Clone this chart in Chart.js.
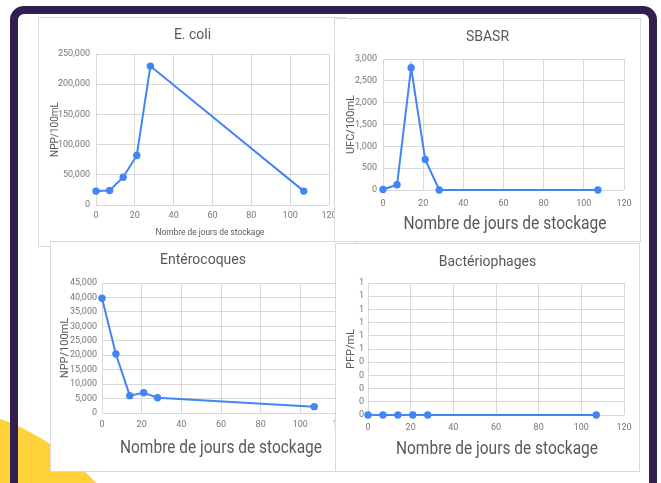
<!DOCTYPE html>
<html lang="fr">
<head>
<meta charset="utf-8">
<title>Suivi microbiologique pendant le stockage</title>
<script src="https://cdn.jsdelivr.net/npm/chart.js@4.4.1/dist/chart.umd.min.js"></script>
<style>
  html, body { margin: 0; padding: 0; background: #fff; }
  body { position: relative; width: 661px; height: 483px; overflow: hidden; }
  .sun { position: absolute; left: -337px; top: 403px; width: 500px; height: 500px;
         border-radius: 50%; background: #ffd23c; }
  .frame { position: absolute; left: 10px; top: 6px; width: 631px; height: 540px;
           border: 8px solid #2f1e4e; border-radius: 14px; }
  .panel { position: absolute; background: #fff; overflow: hidden;
           box-shadow: inset 0 0 0 1px #d9d9d9; }
  .panel canvas { position: absolute; left: 0; top: 0; }
</style>
</head>
<body>
<div class="sun"></div>
<div class="frame"></div>

<div class="panel" style="left:38px;top:17px;width:309px;height:230px">
  <canvas id="ecoli" width="309" height="230" style="width:309px;height:230px"></canvas>
</div>
<div class="panel" style="left:334px;top:18px;width:307px;height:224px">
  <canvas id="sbasr" width="307" height="224" style="width:307px;height:224px"></canvas>
</div>
<div class="panel" style="left:50px;top:241px;width:306px;height:231px">
  <canvas id="entero" width="306" height="231" style="width:306px;height:231px"></canvas>
</div>
<div class="panel" style="left:335px;top:243px;width:305px;height:229px">
  <canvas id="phage" width="305" height="229" style="width:305px;height:229px"></canvas>
</div>

<script>
// Jours de stockage échantillonnés
const days = [0, 7, 14, 21, 28, 107];

// Résultats par indicateur
const ecoliNpp  = [23000, 24000, 46000, 82000, 230000, 23000];   // NPP/100mL
const sbasrUfc  = [10, 120, 2800, 700, 0, 0];                     // UFC/100mL
const enteroNpp = [39700, 20400, 6000, 7000, 5300, 2200];         // NPP/100mL
const phagePfp  = [0, 0, 0, 0, 0, 0];                             // PFP/mL

// Graduations
const dayTicks = [0, 20, 40, 60, 80, 100, 120];
const phageTickLabels = ['0', '0', '0', '0', '0', '1', '1', '1', '1', '1', '1'];

const xAxisTitle = 'Nombre de jours de stockage';

const BLUE = '#4285f4';
const GRID = '#d9d9d9';
const TEXT = '#595959';
const TICK = '#777777';
const SANS = "Roboto, 'Liberation Sans', sans-serif";

// Titre de l'axe horizontal, centré sous la zone de tracé et
// resserré à une largeur donnée (argument maxWidth de fillText).
const axisCaption = {
  id: 'axisCaption',
  afterDraw(chart, args, o) {
    if (!o || !o.text) return;
    const { ctx, chartArea } = chart;
    ctx.save();
    ctx.font = `${o.size}px ${SANS}`;
    ctx.fillStyle = o.color || TEXT;
    ctx.textAlign = 'center';
    ctx.textBaseline = 'middle';
    const cx = (chartArea.left + chartArea.right) / 2 + (o.dx || 0);
    ctx.fillText(o.text, cx, o.y, o.width);
    ctx.restore();
  }
};

function lineChart(id, values, c) {
  const points = days.map((d, i) => ({ x: d, y: values[i] }));
  return new Chart(document.getElementById(id), {
    type: 'line',
    data: {
      datasets: [{
        data: points,
        borderColor: BLUE,
        backgroundColor: BLUE,
        borderWidth: 2,
        pointRadius: 3.7,
        pointHoverRadius: 3.7,
        pointBorderWidth: 0,
        tension: 0,
        clip: false
      }]
    },
    plugins: [axisCaption],
    options: {
      responsive: false,
      animation: false,
      devicePixelRatio: 1,
      events: [],
      layout: { padding: { left: c.pad, right: c.pad, top: 0, bottom: 0 } },
      plugins: {
        legend: { display: false },
        tooltip: { enabled: false },
        title: {
          display: true,
          text: c.title,
          color: TEXT,
          font: { family: SANS, size: 14, weight: 'normal' },
          padding: { top: c.titleTop, bottom: c.titleBottom }
        },
        axisCaption: {
          text: xAxisTitle,
          size: c.xTitleSize,
          width: c.xTitleWidth,
          y: c.xTitleY,
          dx: c.xTitleDx,
          color: TEXT
        }
      },
      scales: {
        x: {
          type: 'linear',
          min: 0,
          max: 120,
          afterBuildTicks: s => { s.ticks = dayTicks.map(v => ({ value: v })); },
          afterFit: s => { s.height = c.xH; },
          grid: { color: GRID, drawTicks: false },
          border: { display: false },
          ticks: { padding: c.xTickPad, color: TICK, font: { family: SANS, size: 9 },
                   maxRotation: 0, autoSkip: false },
          title: { display: false }
        },
        y: {
          min: 0,
          max: c.yMax,
          afterFit: s => { s.width = c.yW; },
          grid: { color: GRID, drawTicks: false },
          border: { display: false },
          ticks: Object.assign({
            stepSize: c.yStep,
            padding: c.yTickPad,
            color: TICK,
            font: { family: SANS, size: 9 },
            autoSkip: false
          }, c.yTickExtra || {}),
          title: {
            display: true,
            text: c.yTitle,
            color: TEXT,
            font: { family: SANS, size: c.yTitleSize },
            padding: { top: c.yTitleTop, bottom: 0 }
          }
        }
      }
    }
  });
}

lineChart('ecoli', ecoliNpp, {
  title: 'E. coli', pad: 18, titleTop: 10.4, titleBottom: 9.8,
  xH: 42, xTickPad: 5,
  xTitleSize: 9.5, xTitleWidth: 109, xTitleY: 215.5, xTitleDx: -2.5,
  yW: 40, yMax: 250000, yStep: 50000, yTickPad: 6,
  yTitle: 'NPP/100mL', yTitleSize: 10, yTitleTop: -7
});

lineChart('sbasr', sbasrUfc, {
  title: 'SBASR', pad: 17, titleTop: 10.6, titleBottom: 13.6,
  xH: 52, xTickPad: 8.2,
  xTitleSize: 18, xTitleWidth: 203, xTitleY: 206, xTitleDx: 1.5,
  yW: 32, yMax: 3000, yStep: 500, yTickPad: 6,
  yTitle: 'UFC/100mL', yTitleSize: 11, yTitleTop: -6.6
});

lineChart('entero', enteroNpp, {
  title: 'Entérocoques', pad: 16, titleTop: 10.6, titleBottom: 14.6,
  xH: 59, xTickPad: 6.6,
  xTitleSize: 18, xTitleWidth: 202, xTitleY: 207, xTitleDx: 0,
  yW: 36, yMax: 45000, yStep: 5000, yTickPad: 5,
  yTitle: 'NPP/100mL', yTitleSize: 11, yTitleTop: -7.6
});

lineChart('phage', phagePfp, {
  title: 'Bactériophages', pad: 16, titleTop: 10.6, titleBottom: 12.6,
  xH: 57, xTickPad: 7.6,
  xTitleSize: 18, xTitleWidth: 202, xTitleY: 206, xTitleDx: 1,
  yW: 17, yMax: 1, yStep: 0.1, yTickPad: 4,
  yTickExtra: { callback: (v, i) => phageTickLabels[i] },
  yTitle: 'PFP/mL', yTitleSize: 11, yTitleTop: -6.6
});
</script>
</body>
</html>
